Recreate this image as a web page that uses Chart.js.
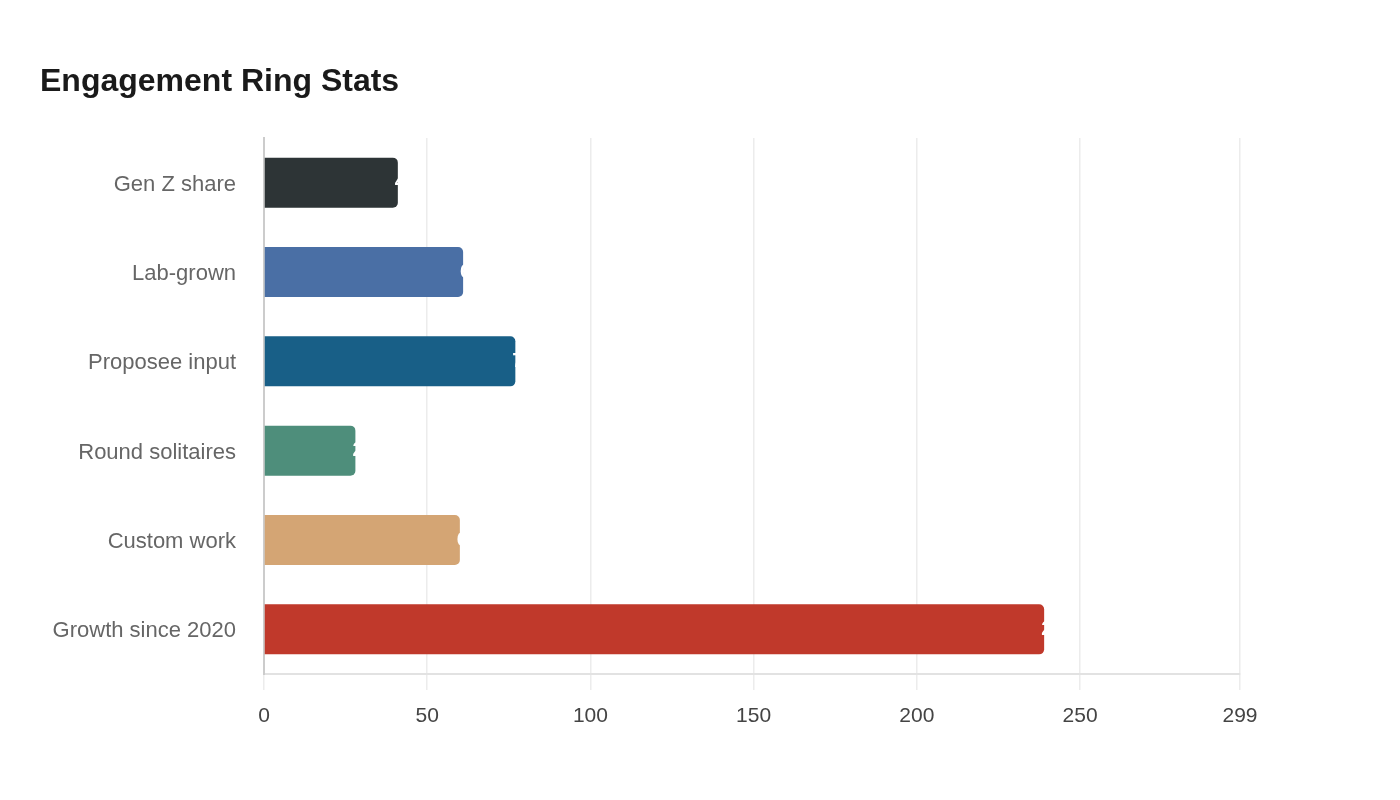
<!DOCTYPE html>
<html>
<head>
<meta charset="utf-8">
<script src="https://cdn.jsdelivr.net/npm/chart.js@4"></script>
<style>
html,body{margin:0;padding:0;background:#fff;}
#wrap{width:1400px;height:800px;position:relative;}
</style>
</head>
<body>
<div id="wrap"><canvas id="c" width="1400" height="800"></canvas></div>
<script>
const categories = ["Gen Z share", "Lab-grown", "Proposee input", "Round solitaires", "Custom work", "Growth since 2020"];
const values = [41, 61, 77, 28, 60, 239];
const barColors = ["#2d3436", "#4a6fa5", "#185f87", "#4e8e7b", "#d4a574", "#c0392b"];
const xTicks = [0, 50, 100, 150, 200, 250, 299];

const valueLabels = {
  id: 'valueLabels',
  afterDatasetsDraw(chart) {
    const ctx = chart.ctx;
    const meta = chart.getDatasetMeta(0);
    ctx.save();
    ctx.font = 'bold 20px "Liberation Sans", Arial, sans-serif';
    ctx.fillStyle = '#ffffff';
    ctx.textAlign = 'left';
    ctx.textBaseline = 'middle';
    meta.data.forEach((bar, i) => {
      ctx.fillText(String(values[i]), bar.x - 3, bar.y);
    });
    ctx.restore();
  }
};

new Chart(document.getElementById('c'), {
  type: 'bar',
  data: {
    labels: categories,
    datasets: [{
      data: values,
      backgroundColor: barColors,
      borderRadius: 5,
      borderSkipped: 'start',
      categoryPercentage: 0.8,
      barPercentage: 0.7
    }]
  },
  options: {
    indexAxis: 'y',
    responsive: false,
    animation: false,
    layout: { padding: { left: 40, right: 160, top: 63, bottom: 50 } },
    plugins: {
      legend: { display: false },
      tooltip: { enabled: false },
      title: {
        display: true,
        text: 'Engagement Ring Stats',
        align: 'start',
        color: '#1a1a1a',
        font: { family: '"Liberation Sans", Arial, sans-serif', size: 32, weight: 'bold' },
        padding: { top: 0, bottom: 36.6 }
      }
    },
    scales: {
      x: {
        min: 0,
        max: 299,
        afterBuildTicks(axis) { axis.ticks = xTicks.map(v => ({ value: v })); },
        afterFit(axis) { axis.height = 76; },
        grid: { color: '#ececec', tickLength: 16, lineWidth: 1.5 },
        border: { color: '#e2e2e2', width: 2 },
        ticks: {
          color: '#444444',
          padding: 14,
          font: { family: '"Liberation Sans", Arial, sans-serif', size: 21 }
        }
      },
      y: {
        afterFit(axis) { axis.width = 224; },
        grid: { display: false },
        border: { color: '#cccccc', width: 2 },
        ticks: {
          color: '#666666',
          padding: 20,
          labelOffset: 2,
          font: { family: '"Liberation Sans", Arial, sans-serif', size: 22 }
        }
      }
    }
  },
  plugins: [valueLabels]
});
</script>
</body>
</html>
